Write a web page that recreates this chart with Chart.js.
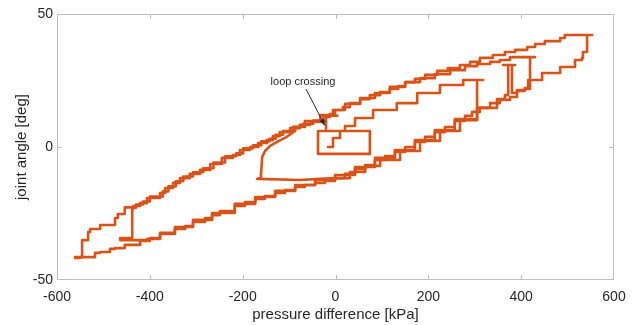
<!DOCTYPE html>
<html><head><meta charset="utf-8">
<script src="https://cdn.jsdelivr.net/npm/chart.js@4.4.1/dist/chart.umd.min.js"></script>
<style>html,body{margin:0;padding:0;background:#fff}canvas{display:block}</style>
</head><body>
<canvas id="c" width="636" height="325"></canvas>
<script>
// tick labels
const xTicks = [-600, -400, -200, 0, 200, 400, 600];
const yTicks = [-50, 0, 50];

// trajectory pieces, [pressure difference kPa, joint angle deg], in drawing order
const upperThird = [[4,11.8],[-26,9.9],[-48,8.7],[-70,7.6],[-92,6.0],[-113,4.6],[-129,3.1],[-142,2.1],[-160,0.6],[-178,-0.5],[-199,-2.4],[-214,-3.5],[-238,-5.8],[-263,-8.0],[-285,-9.5],[-307,-11.1],[-328,-12.9],[-344,-14.8],[-360,-16.7],[-372,-18.6],[-400,-20.5],[-415,-21.6],[-430,-22.7]];
const tipLeft = [[-454,-25.2],[-469,-26.7],[-475,-29.3],[-507,-30.8],[-529,-32.0],[-533,-35.0],[-546,-36.1],[-546,-41.4],[-561,-41.7]];
const lowerOuter = [[-550,-41.4],[-518,-39.8],[-507,-39.5],[-486,-38.3],[-475,-38.0],[-454,-36.8],[-421,-35.3],[-400,-34.2],[-378,-32.7],[-346,-30.8],[-324,-29.7],[-307,-28.2],[-281,-26.7],[-266,-25.6],[-249,-24.1],[-217,-22.2],[-195,-20.7],[-173,-19.5],[-152,-18.4],[-130,-17.3],[-109,-16.2],[-87,-15.0],[-66,-14.3],[-44,-13.5],[-23,-12.8],[-1,-11.7],[20,-10.1],[42,-8.3],[64,-6.8],[85,-4.9],[107,-3.4],[128,-1.9],[150,0],[171,1.9],[193,3.8],[214,5.6],[236,7.5],[257,9.8],[279,11.7],[294,13.2],[311,14.7],[333,16.5]];
const rightStairs = [[354,17.7],[376,18.8],[391,21.1],[408,22.2],[415,25.2],[441,25.2],[445,27.8],[479,27.8],[484,30.1],[512,30.1],[516,32.7],[531,33.5],[533,35.7],[542,37.2],[542,42.1],[553,42.1],[520,42.1]];
const upperOuter = [[494,41.0],[484,39.8],[451,38.7],[430,37.6],[413,36.5],[387,35.7],[365,34.6],[339,33.5],[311,32.0],[290,30.8],[268,29.7],[242,28.6],[219,27.1],[193,25.6],[171,24.4],[150,22.9],[135,21.8],[117,20.7],[96,19.5],[74,18.0],[53,16.5],[31,15.0],[16,13.9],[-1,12.4],[-12,11.3],[-20.5,10.5],[-20.5,6.8],[-20.5,9.8],[-33,9.4],[-55,8.3],[-77,7.1],[-98,5.6],[-120,4.1],[-135,2.6],[-148,1.5],[-167,0],[-184,-1.1],[-206,-3.0],[-221,-4.1],[-245,-6.4],[-270,-8.6],[-292,-10.1],[-314,-11.7],[-335,-13.5],[-350,-15.4],[-367,-17.3],[-378,-19.2],[-406,-21.1],[-421,-22.2],[-436,-23.3]];
const leftReversal = [[-438,-34.2],[-464,-35.0],[-406,-34.6]];
const lowerSecond = [[-378,-32.3],[-346,-30.1],[-307,-27.4],[-266,-24.8],[-217,-21.4],[-173,-18.8],[-130,-16.5],[-87,-14.3],[-44,-12.4],[-1,-10.5],[42,-7.5],[85,-4.1],[128,-1.1],[171,2.6],[214,6.4],[257,10.5],[305,14.7],[348,18.0],[365,19.5],[372,20.7]];
const rightReversals = [[372,30.8],[361,30.8],[387,30.8],[380,30.8],[380,20.3],[391,21.4],[408,21.8],[419,22.6],[419,33.8],[430,33.8],[404,33.8]];
const upperSecond = [[376,32.7],[354,32.0],[333,31.2],[305,30.4],[279,28.9],[247,27.4],[214,25.9],[182,24.4],[150,22.6],[117,20.3],[85,18.4],[53,16.2],[20.5,13.9],[-5.4,12.0],[-33,9.8],[-66,7.5],[-87,6.0]];
const middleLoop = [[-109,3.4],[-124,2.1],[-141,0.4],[-152,-1.5],[-158,-3.8],[-161,-11.7],[-169,-12.0],[-77,-12.4],[-33,-12.0],[-1,-11.7]];
const lowerThird = [[31,-9.4],[64,-7.1],[96,-4.9],[139,-1.5],[182,2.3],[225,6.0],[268,10.1],[305,13.2]];
const innerReversal = [[305,25.2],[318,25.2],[279,25.2]];
const innerUpper = [[275,23.3],[225,20.3],[176,16.5],[132,13.9],[81,10.9],[42,7.9],[20.5,6.0]];
const innerBox = [[-37.7,6.0],[-37.7,-2.6],[74,-2.6],[74,6.0],[20.5,6.0],[9.7,5.3],[9.7,3.4],[-5.4,3.4],[-5.4,0],[-16.2,0]];

// annotation
const noteText = 'loop crossing';
const noteAt = [-70, 24.6];
const arrowFrom = [-63.6, 21.8];
const arrowTo = [-22.6, 7.9];

// pieces drawn with a staircase (quantised sensor) look vs. straight
const pieces = [
  [upperThird, true], [tipLeft, true], [lowerOuter, true], [rightStairs, true],
  [upperOuter, true], [leftReversal, true], [lowerSecond, true], [rightReversals, true],
  [upperSecond, true], [middleLoop, false], [lowerThird, true], [innerReversal, true],
  [innerUpper, true], [innerBox, true]
];

const INK = '#262626';
const FONT = "'Liberation Sans', Arial, Helvetica, sans-serif";
const ORANGE = '#D95319';

let prev = null;
const datasets = pieces.map(([arr, stepped]) => {
  const pts = arr.map(([x, y]) => ({x, y}));
  const data = prev ? [prev, ...pts] : pts;
  prev = pts[pts.length - 1];
  return {
    data, showLine: true, borderColor: ORANGE, borderWidth: 2.6,
    pointRadius: 0, pointHoverRadius: 0, stepped: stepped ? 'before' : false,
    borderJoinStyle: 'round', borderCapStyle: 'round', tension: 0
  };
});

const frame = {
  id: 'frame',
  beforeDatasetsDraw(chart) {
    const {ctx, chartArea: a, scales: {x, y}} = chart;
    ctx.save();
    ctx.strokeStyle = '#bdbdbd';
    ctx.lineWidth = 1;
    ctx.strokeRect(a.left + 0.5, a.top + 0.5, a.right - a.left - 1, a.bottom - a.top - 1);
    ctx.beginPath();
    const tl = 5;
    xTicks.forEach(v => {
      if (v <= x.min || v >= x.max) return;
      const px = Math.round(x.getPixelForValue(v)) + 0.5;
      ctx.moveTo(px, a.bottom); ctx.lineTo(px, a.bottom - tl);
      ctx.moveTo(px, a.top); ctx.lineTo(px, a.top + tl);
    });
    yTicks.forEach(v => {
      if (v <= y.min || v >= y.max) return;
      const py = Math.round(y.getPixelForValue(v)) + 0.5;
      ctx.moveTo(a.left, py); ctx.lineTo(a.left + tl, py);
      ctx.moveTo(a.right, py); ctx.lineTo(a.right - tl, py);
    });
    ctx.stroke();
    ctx.restore();
  },
  afterDatasetsDraw(chart) {
    const {ctx, scales: {x, y}} = chart;
    ctx.save();
    ctx.fillStyle = INK;
    ctx.strokeStyle = INK;
    ctx.font = '11px ' + FONT;
    ctx.textAlign = 'center';
    ctx.textBaseline = 'middle';
    ctx.fillText(noteText, x.getPixelForValue(noteAt[0]), y.getPixelForValue(noteAt[1]));
    const x0 = x.getPixelForValue(arrowFrom[0]), y0 = y.getPixelForValue(arrowFrom[1]);
    const x1 = x.getPixelForValue(arrowTo[0]), y1 = y.getPixelForValue(arrowTo[1]);
    const ang = Math.atan2(y1 - y0, x1 - x0);
    const hl = 7, hw = 2.5;
    const bx = x1 - hl * Math.cos(ang), by = y1 - hl * Math.sin(ang);
    ctx.lineWidth = 1;
    ctx.beginPath(); ctx.moveTo(x0, y0); ctx.lineTo(bx, by); ctx.stroke();
    ctx.beginPath();
    ctx.moveTo(x1, y1);
    ctx.lineTo(bx + hw * Math.sin(ang), by - hw * Math.cos(ang));
    ctx.lineTo(bx - hw * Math.sin(ang), by + hw * Math.cos(ang));
    ctx.closePath(); ctx.fill();
    ctx.restore();
  }
};

new Chart(document.getElementById('c'), {
  type: 'scatter',
  data: {datasets},
  options: {
    responsive: false,
    animation: false,
    events: [],
    layout: {padding: {left: 3, right: 22, top: 14, bottom: 0}},
    plugins: {legend: {display: false}, tooltip: {enabled: false}},
    scales: {
      x: {
        type: 'linear', min: -600, max: 600,
        afterBuildTicks: s => { s.ticks = xTicks.map(v => ({value: v})); },
        afterFit: s => { s.height = 45; },
        grid: {display: false, drawTicks: false},
        border: {display: false},
        ticks: {color: INK, font: {family: FONT, size: 14}, padding: 9, maxRotation: 0, autoSkip: false},
        title: {display: true, text: 'pressure difference [kPa]', color: INK,
                font: {family: FONT, size: 15}, padding: {top: 0, bottom: 1}}
      },
      y: {
        type: 'linear', min: -50, max: 50,
        afterBuildTicks: s => { s.ticks = yTicks.map(v => ({value: v})); },
        afterFit: s => { s.width = 54; },
        grid: {display: false, drawTicks: false},
        border: {display: false},
        ticks: {color: INK, font: {family: FONT, size: 14}, padding: 4, autoSkip: false},
        title: {display: true, text: 'joint angle [deg]', color: INK,
                font: {family: FONT, size: 15}, padding: {top: 10, bottom: 0}}
      }
    }
  },
  plugins: [frame]
});
</script>
</body></html>
